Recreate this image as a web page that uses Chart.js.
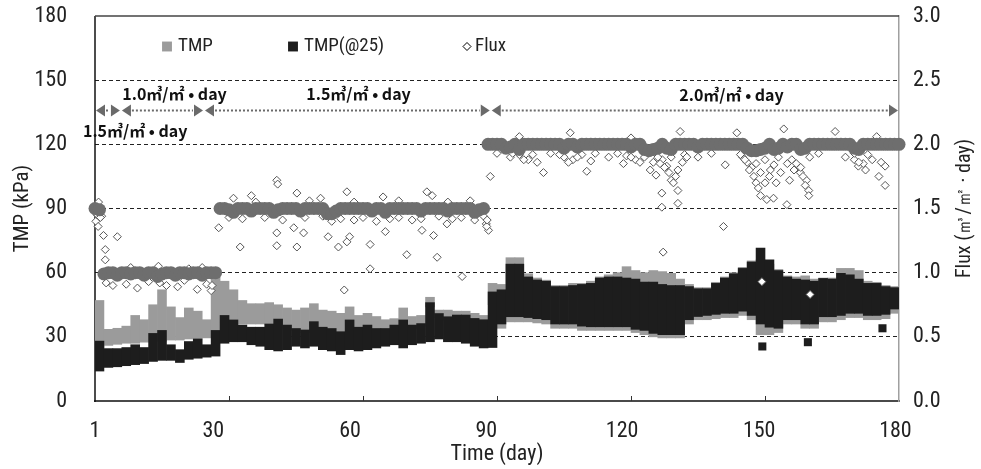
<!DOCTYPE html>
<html><head><meta charset="utf-8">
<script src="https://cdn.jsdelivr.net/npm/chart.js@4.4.1/dist/chart.umd.min.js"></script>
<style>html,body{margin:0;padding:0;background:#fff}</style>
</head><body>
<canvas id="c" width="981" height="469"></canvas>
<script>
// ---------- data ----------
// x tick labels of the time axis (day)
const xTickLabels = ['1', '30', '60', '90', '120', '150', '180'];
// TMP band (kPa), 2-day bins: upper / lower envelope
const tmpHi = [
  47, 33.5, 34, 35, 40, 38, 45, 52, 44, 39,
  43.5, 42, 38, 58, 56, 52, 47, 45.5, 45.5, 46,
  45, 43.5, 42.5, 43.5, 45.5, 42.5, 42, 41, 44, 40,
  41, 39.5, 38, 38.5, 43.5, 39.5, 40, 48.5, 42.5, 42.5,
  42, 42, 41, 40, 55, 54.5, 67, 67, 59.5, 57.5,
  56.5, 54, 54, 55, 55, 56, 58, 59, 60, 62.8,
  61, 60, 61, 60.5, 59.7, 57, 54.5, 53, 53, 55.5,
  58, 60, 62.5, 65.5, 66, 64, 61.5, 58.5, 58, 58.5,
  57, 57.5, 57.5, 62, 62, 61, 56, 55.5, 54, 53.5
];
const tmpLo = [
  25, 26, 26.5, 27, 27, 27.5, 28, 28, 28.5, 28.5,
  29, 29, 29.5, 30, 37, 36, 36, 36, 36, 36,
  36, 34, 33, 32, 35, 33, 32, 31, 35, 33,
  34, 33, 33, 34, 36, 34, 35, 44, 39, 38,
  38, 38, 37, 36, 45, 34, 37, 37, 37, 36.5,
  36, 34, 34, 34, 33, 33, 33, 33, 33, 33,
  32, 31, 30, 29.5, 29.5, 29.5, 36, 38, 38, 38.5,
  39, 39, 40, 38, 31, 31, 32, 36, 36, 34,
  34, 37, 37, 38, 39, 39, 38, 38, 38.5, 41
];
// TMP(@25) band (kPa), 2-day bins
const tmp25Hi = [
  28, 24.5, 24.5, 25, 26.3, 25, 31.6, 33, 26.3, 24,
  27.8, 29, 26.3, 33, 40, 37.9, 35.5, 34.5, 34.5, 36,
  38.3, 35.5, 33.9, 33.2, 37.1, 34.5, 33.9, 32.4, 37.9, 34.5,
  35.5, 33.9, 33.9, 35.5, 37.9, 35.5, 36.2, 46, 40.9, 39.4,
  40.2, 40.2, 38.6, 38, 51, 52, 64, 64, 58, 56.6,
  56, 53.5, 53.5, 54, 54.5, 55, 57.5, 58, 58, 57.5,
  57, 55.6, 55.6, 54.5, 54, 54, 53.5, 52.5, 52.5, 55,
  57.5, 59.5, 62, 65, 71.5, 66, 61, 58, 57, 56.6,
  56, 57.3, 57, 59.7, 59, 57, 55, 55, 53.5, 53
];
const tmp25Lo = [
  14, 15.7, 16, 16.5, 17, 17.5, 18.5, 19, 19, 18,
  19.5, 20, 20.5, 21, 27, 27.7, 27.7, 26.3, 25.6, 24,
  23.4, 24, 25.6, 24.8, 25.6, 24, 23.4, 21.7, 24, 23.4,
  24, 24.8, 25.6, 26.3, 24.8, 26.3, 27, 27.7, 29, 27.7,
  27.7, 27, 25.6, 24.8, 25, 36, 39.4, 39.4, 39, 38.5,
  38, 36, 36, 36, 35, 34.7, 34.7, 34.7, 34.7, 34.7,
  33.5, 33, 31.6, 31, 31, 31, 38, 39.5, 40, 40.5,
  41, 41, 42, 40, 36, 34.5, 34, 38, 38, 36,
  36, 39.4, 39.4, 40, 41, 41, 40, 40, 40.5, 43
];
// isolated TMP(@25) readings
const tmp25OutDay = [149.4, 159.6, 176.3];
const tmp25OutVal = [25.5, 27.5, 34];
// daily flux (m3/m2.day), day 0..180
const fluxDaily = [
  1.5, 1.49,
  0.99, 1.0, 1.0, 0.98, 1.0, 1.0, 0.99, 1.0, 1.0, 0.98, 1.0, 1.0, 0.97,
  0.99, 1.0, 1.0, 0.98, 1.0, 1.0, 0.99, 1.0, 1.0, 0.98, 1.0, 1.0, 1.0,
  1.5, 1.5, 1.49, 1.47, 1.5, 1.5, 1.5, 1.48, 1.5, 1.5,
  1.5, 1.5, 1.47, 1.49, 1.5, 1.5, 1.5, 1.5, 1.48, 1.5,
  1.5, 1.5, 1.5, 1.5, 1.46, 1.46, 1.48, 1.5, 1.5, 1.5,
  1.5, 1.5, 1.5, 1.5, 1.48, 1.5, 1.5, 1.47, 1.5, 1.5,
  1.5, 1.5, 1.5, 1.5, 1.5, 1.48, 1.5, 1.5, 1.5, 1.5,
  1.5, 1.48, 1.5, 1.5, 1.5, 1.5, 1.5, 1.47, 1.49, 1.5,
  2.0, 2.0, 2.0, 2.0, 1.97, 1.98, 2.0, 1.96, 2.0, 2.0,
  2.0, 2.0, 2.0, 2.0, 2.0, 2.0, 2.0, 1.97, 2.0, 2.0,
  1.98, 2.0, 2.0, 2.0, 2.0, 2.0, 2.0, 2.0, 2.0, 2.0,
  2.0, 2.0, 1.98, 2.0, 2.0, 1.96, 1.95, 1.96, 1.97, 2.0,
  1.97, 1.96, 2.0, 2.0, 2.0, 2.0, 2.0, 1.98, 2.0, 2.0,
  2.0, 2.0, 2.0, 2.0, 2.0, 2.0, 2.0, 2.0, 1.97, 1.95,
  1.95, 1.96, 1.97, 2.0, 1.96, 1.97, 2.0, 1.98, 2.0, 2.0,
  1.96, 1.97, 2.0, 2.0, 2.0, 2.0, 2.0, 2.0, 2.0, 2.0,
  2.0, 2.0, 1.97, 1.96, 2.0, 2.0, 2.0, 2.0, 2.0, 2.0,
  2.0, 2.0, 2.0
];
// scattered flux readings (day, flux)
const fluxOutDay = [
  0.2, 0.7, 1.9, 2.3, 2.3, 5, 0.5, 1.5, 0.3, 1.2, 0.8,
  2.5, 4, 7, 9.5, 12, 14.5, 16, 18.5, 20, 22.9, 25, 26, 26.2,
  14.2, 8, 24, 21,
  31, 35, 40.7, 40.9, 45.2, 56.4, 50.5, 64.5, 74.3, 75.5, 88.5,
  27.7, 32.5, 40.7, 40.7, 45.2, 46.7, 44.5, 52.2, 54.5, 56.4, 57, 61.6, 61.6, 55.8,
  65, 69.8, 73.2, 75.8, 76.6, 78.8, 82.2, 88.1, 87.6,
  30, 33, 38, 42, 47, 51, 53, 55, 58, 60, 63, 66, 68, 71, 73, 77, 80, 82, 85, 87,
  36, 48, 58, 68, 79, 84,
  87.7, 87.8, 100.4, 110.1, 118.3, 124.3, 125.6, 126.9, 126.9, 127.2, 130.5, 130.5, 130.5,
  140.7, 141.1, 149.3, 150.4, 151.2, 151.9, 154.9, 157.9, 159.3, 159.8, 159.8, 160.1,
  170.9, 176.9, 176.9,
  106.4, 131, 143.7, 154.2, 165.7, 95, 120, 175,
  90, 93, 95, 97, 102, 105, 107, 109, 112, 115, 119, 121, 123, 125, 127, 128, 129,
  132, 135, 138, 145, 146, 147, 148, 149, 150, 152, 153, 155, 156, 158, 160, 162,
  168, 170, 172, 173, 176,
  125.5, 126, 126.5, 127.5, 128.5, 129, 129.5, 130, 131.5, 132.5,
  144.5, 145.5, 146.5, 147.5, 148, 148.5, 149, 150, 151, 152.5, 153.5, 155.5, 156.5, 157, 158.5, 159,
  170, 171, 172.5, 174, 175.5,
  93.5, 96, 98, 99, 104, 106, 108, 111, 117, 120, 122
];
const fluxOutVal = [
  1.4, 1.36, 1.29, 1.18, 1.10, 1.28, 1.45, 1.44, 1.46, 1.43, 1.55,
  0.92, 0.9, 0.91, 0.88, 0.93, 0.92, 0.9, 0.89, 0.94, 0.87, 0.91, 0.86, 0.9,
  1.05, 1.04, 1.04, 1.03,
  1.58, 1.6, 1.72, 1.69, 1.62, 1.63, 1.58, 1.59, 1.63, 1.6, 1.75,
  1.35, 1.2, 1.31, 1.21, 1.2, 1.31, 1.35, 1.28, 1.2, 1.24, 1.28, 1.22, 1.03, 0.865,
  1.32, 1.14, 1.33, 1.29, 1.12, 1.38, 0.97, 1.33, 1.38,
  1.43, 1.42, 1.43, 1.41, 1.43, 1.44, 1.4, 1.42, 1.41, 1.43, 1.4, 1.42, 1.43, 1.41, 1.42, 1.44, 1.42, 1.43, 1.41, 1.44,
  1.55, 1.56, 1.55, 1.56, 1.55, 1.56,
  1.36, 1.41, 1.78, 1.79, 1.85, 1.8, 1.76, 1.62, 1.51, 1.16, 1.64, 1.54, 1.8,
  1.36, 1.84, 0.93, 1.57, 1.8, 1.58, 1.53, 1.78, 1.72, 1.64, 1.6, 0.83,
  1.83, 1.68, 1.83,
  2.09, 2.1, 2.09, 2.12, 2.1, 2.06, 2.05, 2.06,
  1.93, 1.9, 1.92, 1.88, 1.93, 1.9, 1.88, 1.92, 1.93, 1.9, 1.91, 1.88, 1.9, 1.86, 1.88, 1.83, 1.9,
  1.92, 1.9, 1.93, 1.9, 1.86, 1.82, 1.85, 1.78, 1.88, 1.84, 1.9, 1.85, 1.88, 1.82, 1.9, 1.93,
  1.9, 1.88, 1.85, 1.92, 1.86,
  1.93, 1.9, 1.85, 1.82, 1.78, 1.72, 1.7, 1.75, 1.86, 1.9,
  1.92, 1.88, 1.8, 1.75, 1.7, 1.66, 1.6, 1.7, 1.75, 1.7, 1.78, 1.72, 1.8, 1.85, 1.75, 1.68,
  1.93, 1.86, 1.8, 1.88, 1.75,
  1.93, 1.88, 1.92, 1.86, 1.92, 1.86, 1.9, 1.87, 1.93, 1.9, 1.86
];
// operating flux periods (day boundaries) and their labels
const rateBounds = [0, 5.8, 24.4, 88.6, 180];
const rateText = ['1.5㎥/㎡ • day', '1.0㎥/㎡ • day', '1.5㎥/㎡ • day', '2.0㎥/㎡ • day'];
const rateTextDay = [9, 17.8, 59, 142.5];
const rateTextTmp = [126.5, 143.5, 143.5, 143];

// ---------- layout / style constants ----------
const xLabelPos = [0, 26.5, 57.1, 87.6, 118, 148.7, 179.2];
const xTickMarks = [30, 60, 90, 120, 150];
const arrowTmp = 136;
const GREY = '#9b9b9b', BLACK = '#1d1d1d', FLUXC = '#6e6e6e', TXT = '#222';
const COND = 'Roboto, sans-serif';
const condFont = size => ({size, family: COND, style: '', weight: 'condensed'});
const condStr = size => 'condensed ' + size + 'px ' + COND;
const CJK = "'Noto Sans CJK KR','Noto Sans CJK SC',sans-serif";

const bins = tmpHi.map((_, i) => 2 * i + 1);
const tmpData = bins.map((x, i) => ({x, y: [tmpLo[i], tmpHi[i]]}));
const tmp25Data = bins.map((x, i) => ({x, y: [tmp25Lo[i], tmp25Hi[i]]}));
const fluxBandData = fluxDaily.map((y, i) => ({x: i, y}));
const fluxOutData = fluxOutDay.map((x, i) => ({x, y: fluxOutVal[i]}));
const tmp25OutData = tmp25OutDay.map((x, i) => ({x, y: tmp25OutVal[i]}));

const legendItems = [
  {text: 'TMP', style: 'rect', r: 7, fill: GREY, stroke: GREY, dx: 72},
  {text: 'TMP(@25)', style: 'rect', r: 7, fill: BLACK, stroke: BLACK, dx: 198},
  {text: 'Flux', style: 'rectRot', r: 4, fill: '#fff', stroke: '#555', dx: 372}
];

const noPad = s => { s.paddingTop = 0; s.paddingBottom = 0; s.paddingLeft = 0; s.paddingRight = 0; };

const overlay = {
  id: 'overlay',
  beforeDatasetsDraw(chart) {
    const {ctx, chartArea: a} = chart;
    ctx.save();
    ctx.strokeStyle = '#111'; ctx.lineWidth = 1.5;
    ctx.beginPath(); ctx.moveTo(a.left, a.top); ctx.lineTo(a.left, a.bottom + 1); ctx.stroke();
    ctx.strokeStyle = '#444'; ctx.lineWidth = 1.5;
    ctx.beginPath(); ctx.moveTo(a.left, a.top); ctx.lineTo(a.right, a.top); ctx.stroke();
    ctx.restore();
  },
  afterDatasetsDraw(chart) {
    const {ctx, chartArea: a, scales: {x, y}} = chart;
    ctx.save();
    ctx.strokeStyle = '#333'; ctx.lineWidth = 1;
    xTickMarks.forEach(v => {
      const px = Math.round(x.getPixelForValue(v)) + 0.5;
      ctx.beginPath(); ctx.moveTo(px, a.bottom); ctx.lineTo(px, a.bottom - 5); ctx.stroke();
    });
    const ay = Math.round(y.getPixelForValue(arrowTmp)) + 0.5;
    ctx.fillStyle = '#6a6a6a';
    for (let i = 0; i < rateBounds.length - 1; i++) {
      const x1 = x.getPixelForValue(rateBounds[i]) + 1;
      const x2 = x.getPixelForValue(rateBounds[i + 1]) - 1;
      ctx.beginPath(); ctx.moveTo(x1, ay); ctx.lineTo(x1 + 9, ay - 6); ctx.lineTo(x1 + 9, ay + 6); ctx.closePath(); ctx.fill();
      ctx.beginPath(); ctx.moveTo(x2, ay); ctx.lineTo(x2 - 9, ay - 6); ctx.lineTo(x2 - 9, ay + 6); ctx.closePath(); ctx.fill();
      ctx.save();
      ctx.strokeStyle = '#6a6a6a'; ctx.lineWidth = 2; ctx.setLineDash([2, 2]);
      ctx.beginPath(); ctx.moveTo(x1 + 10, ay); ctx.lineTo(x2 - 10, ay); ctx.stroke();
      ctx.restore();
    }
    ctx.fillStyle = '#111';
    ctx.font = 'bold 16px ' + CJK;
    ctx.textAlign = 'center'; ctx.textBaseline = 'middle';
    rateText.forEach((t, i) => {
      ctx.fillText(t, x.getPixelForValue(rateTextDay[i]), y.getPixelForValue(rateTextTmp[i]));
    });
    ctx.restore();
  },
  afterDraw(chart) {
    const {ctx, chartArea: a} = chart;
    ctx.save();
    const ly = a.top + 30.5;
    legendItems.forEach(it => {
      const cx = a.left + it.dx;
      ctx.fillStyle = it.fill; ctx.strokeStyle = it.stroke; ctx.lineWidth = 1;
      Chart.helpers.drawPoint(ctx, {pointStyle: it.style, radius: it.r, borderWidth: it.style === 'rectRot' ? 1 : 0}, cx, ly);
      if (it.style === 'rectRot') ctx.stroke();
      ctx.fillStyle = TXT; ctx.font = condStr(19);
      ctx.textAlign = 'left'; ctx.textBaseline = 'middle';
      ctx.fillText(it.text, cx + it.r + 4, ly);
    });
    ctx.translate(965, (a.top + a.bottom) / 2);
    ctx.rotate(-Math.PI / 2);
    ctx.font = condStr(20); ctx.fillStyle = TXT;
    ctx.textAlign = 'center'; ctx.textBaseline = 'middle';
    ctx.fillText('Flux (㎥/㎡ · day)', 0, 0);
    ctx.restore();
  }
};

new Chart(document.getElementById('c'), {
  type: 'bar',
  data: {
    datasets: [
      {type: 'bar', label: 'TMP', data: tmpData, backgroundColor: GREY, borderWidth: 0,
       grouped: false, barPercentage: 1, categoryPercentage: 1, yAxisID: 'y', order: 4},
      {type: 'bar', label: 'TMP(@25)', data: tmp25Data, backgroundColor: BLACK, borderWidth: 0,
       grouped: false, barPercentage: 1, categoryPercentage: 1, yAxisID: 'y', order: 3},
      {type: 'line', label: 'Flux', data: fluxOutData, showLine: false, pointStyle: 'rectRot',
       pointRadius: 4, pointBorderWidth: 1, pointBorderColor: '#555', pointBackgroundColor: '#fff',
       yAxisID: 'y1', order: 1, clip: false},
      {type: 'line', label: 'Flux daily', data: fluxBandData, showLine: false, pointStyle: 'circle',
       pointRadius: 6.5, pointBorderWidth: 0, pointBackgroundColor: FLUXC,
       yAxisID: 'y1', order: 0, clip: false},
      {type: 'line', label: 'TMP(@25) single', data: tmp25OutData, showLine: false, pointStyle: 'rect',
       pointRadius: 5.7, pointBorderWidth: 0, pointBackgroundColor: BLACK, yAxisID: 'y', order: 2}
    ]
  },
  options: {
    responsive: false,
    animation: false,
    events: [],
    layout: {padding: {top: 16, left: 0, right: 0, bottom: 0}},
    plugins: {legend: {display: false}, tooltip: {enabled: false}},
    scales: {
      x: {type: 'linear', position: 'bottom', min: 0, max: 180, offset: false, weight: 0,
          grid: {display: false, offset: false, drawTicks: false}, ticks: {display: false},
          border: {display: true, color: '#4a4a4a', width: 2},
          afterFit(s) { s.height = 0; noPad(s); }},
      xl: {type: 'linear', position: 'bottom', min: 0, max: 180, offset: false, weight: 1,
           grid: {display: false, drawTicks: false}, border: {display: false},
           afterBuildTicks(s) { s.ticks = xLabelPos.map(v => ({value: v})); },
           ticks: {autoSkip: false, maxRotation: 0, padding: 17, color: TXT,
                   font: condFont(22), callback: (v, i) => xTickLabels[i]},
           title: {display: true, text: 'Time (day)', color: TXT, font: condFont(22),
                   padding: {top: 0, bottom: 1}},
           afterFit(s) { s.height = 68; noPad(s); }},
      y: {position: 'left', min: 0, max: 180,
          ticks: {stepSize: 30, padding: 28, color: TXT, font: condFont(22)},
          grid: {drawTicks: false, lineWidth: 1,
                 color: c => (c.tick && c.tick.value > 0 && c.tick.value < 180) ? '#222' : 'rgba(0,0,0,0)'},
          border: {display: false, dash: [4, 3]},
          title: {display: true, text: 'TMP (kPa)', color: TXT, font: condFont(21),
                  padding: {top: 10, bottom: 0}},
          afterFit(s) { s.width = 95; noPad(s); }},
      y1: {position: 'right', min: 0, max: 3,
           ticks: {stepSize: 0.5, padding: 14, color: TXT, font: condFont(22),
                   callback: v => Number(v).toFixed(1)},
           grid: {drawOnChartArea: false, drawTicks: false},
           border: {display: true, color: '#a0a0a0', width: 1.5},
           afterFit(s) { s.width = 82; noPad(s); }}
    }
  },
  plugins: [overlay]
});
</script>
</body></html>
